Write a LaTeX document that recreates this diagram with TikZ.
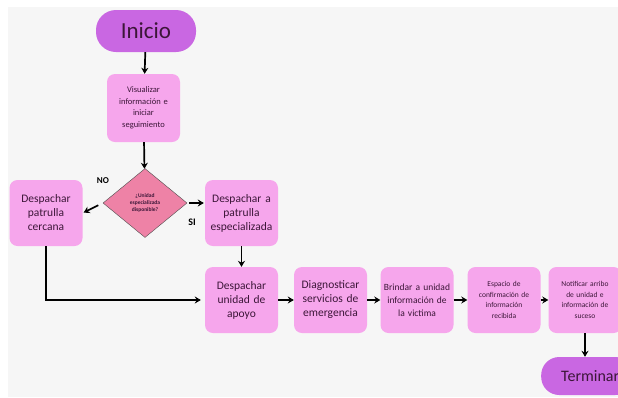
\documentclass[tikz,border=0pt]{standalone}
\usepackage{fontspec}
\setmainfont{Carlito}
\usetikzlibrary{shapes.geometric,arrows.meta}
\definecolor{fondo}{HTML}{F6F6F6}
\definecolor{rosa}{HTML}{F6A6EC}
\definecolor{morado}{HTML}{C967E2}
\definecolor{rombo}{HTML}{EE82A6}
\definecolor{letra}{HTML}{3C1638}
\begin{document}
\begin{tikzpicture}[
		x=1pt, y=-1pt,
		every node/.style={text=letra, align=center, inner sep=1pt},
		caja/.style={fill=rosa, rounded corners=8pt, minimum width=73pt, minimum height=66pt, text width=71pt, font=\fontsize{11.5}{14}\selectfont},
		cajita/.style={caja, font=\fontsize{7.5}{10.5}\selectfont},
		extremo/.style={fill=morado, rounded corners=20pt},
		flecha/.style={line width=1.7pt, -{Stealth[length=6pt,width=7pt]}},
	]
	\clip (0,0) rectangle (618,397);
	\fill[fondo] (8,7) rectangle (618,397);
	\node[extremo, minimum width=100pt, minimum height=42pt, font=\fontsize{23}{23}\selectfont] (inicio) at (146,31) {Inicio};
	\node[cajita, minimum height=68pt, font=\fontsize{8.5}{11.5}\selectfont] (visualizar) at (143.5,108) {Visualizar\\información e\\iniciar\\seguimiento};
	\node[diamond, draw=black!70, fill=rombo, minimum width=84pt, minimum height=69pt, inner sep=0pt, font=\bfseries\fontsize{5.5}{7}\selectfont] (decision) at (145,203) {¿Unidad\\especializada\\disponible?};
	\node[caja] (cercana) at (46,213) {Despachar\\patrulla\\cercana};
	\node[caja] (especializada) at (241.5,213) {Despachar a\\patrulla\\especializada};
	\node[caja] (apoyo) at (241.5,300) {Despachar\\unidad de\\apoyo};
	\node[caja] (diagnosticar) at (330.5,300) {Diagnosticar\\servicios de\\emergencia};
	\node[cajita, font=\fontsize{9.5}{13}\selectfont] (brindar) at (417,300) {Brindar a unidad\\información de\\la victima};
	\node[cajita] (espacio) at (504,300) {Espacio de\\confirmación de\\información\\recibida};
	\node[cajita] (notificar) at (585,300) {Notificar arribo\\de unidad e\\información de\\suceso};
	\node[extremo, minimum width=92pt, minimum height=38pt, rounded corners=18pt, font=\fontsize{16}{16}\selectfont, anchor=west] (terminar) at (541,376) {\hspace*{6pt}Terminar};
	\node[font=\bfseries\fontsize{9}{9}\selectfont, text=black] (no) at (103,181) {NO};
	\node[font=\bfseries\fontsize{10}{10}\selectfont, text=black] (si) at (192,222) {SI};
	\draw[flecha] (inicio) -- (visualizar);
	\draw[flecha] (visualizar) -- (decision);
	\draw[flecha, shorten <=5pt, shorten >=1pt] (decision.west) -- (cercana.east);
	\draw[flecha, shorten <=2pt, shorten >=1pt] (decision.east) -- (decision.east -| especializada.west);
	\draw[flecha] (especializada) -- (apoyo);
	\draw[flecha, shorten >=4pt] (cercana.south) |- (apoyo.west);
	\draw[flecha] (apoyo) -- (diagnosticar);
	\draw[flecha] (diagnosticar) -- (brindar);
	\draw[flecha] (brindar) -- (espacio);
	\draw[flecha] (espacio) -- (notificar);
	\draw[flecha] (notificar.south) -- (notificar.south |- terminar.north);
\end{tikzpicture}
\end{document}
